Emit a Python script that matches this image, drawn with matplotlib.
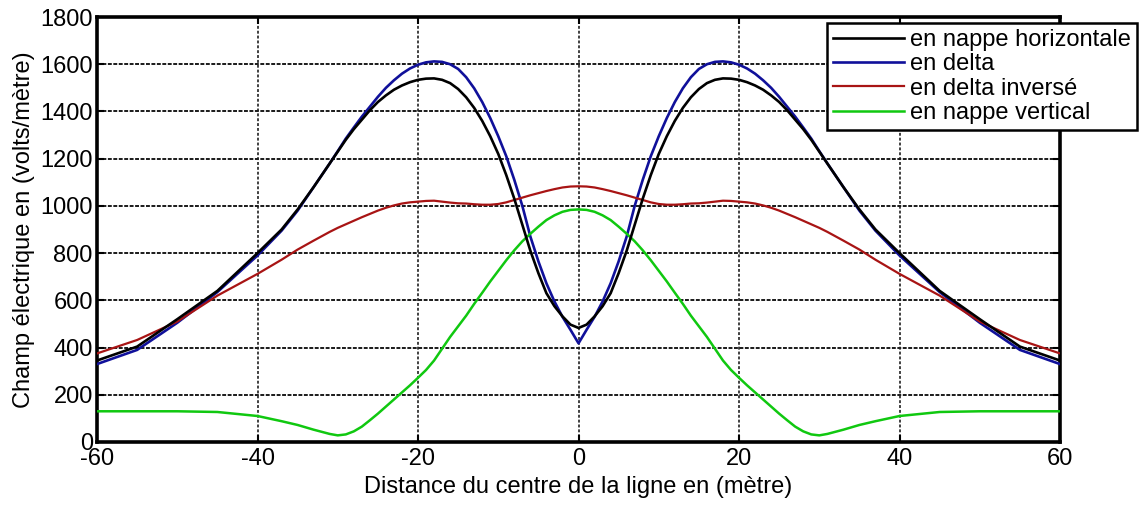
import matplotlib.pyplot as plt

plt.rcParams['font.family'] = ['Liberation Sans', 'DejaVu Sans']
plt.rcParams['axes.unicode_minus'] = False

# distance from the line centre (m)
distance = [-60, -55, -50, -45, -40, -37, -35, -33, -31, -30, -29, -28, -27, -26, -25, -24, -23, -22, -21, -20,
            -19, -18, -17, -16, -15, -14, -13, -12, -11, -10, -9, -8, -7, -6, -5, -4, -3, -2, -1, 0,
            1, 2, 3, 4, 5, 6, 7, 8, 9, 10, 11, 12, 13, 14, 15, 16, 17, 18, 19,
            20, 21, 22, 23, 24, 25, 26, 27, 28, 29, 30, 31, 33, 35, 37, 40, 45, 50, 55, 60]

# electric field (V/m) for each conductor arrangement
nappe_horizontale = [345, 404, 520, 640, 800, 900, 985, 1080, 1180, 1230, 1280, 1325, 1365, 1405, 1440, 1468, 1492, 1510, 1524, 1534,
                     1539, 1540, 1534, 1520, 1495, 1460, 1415, 1360, 1295, 1220, 1130, 1030, 920, 810, 715, 630, 575, 532, 497, 483,
                     497, 532, 575, 630, 715, 810, 920, 1030, 1130, 1220, 1295, 1360, 1415, 1460, 1495, 1520, 1534, 1540, 1539,
                     1534, 1524, 1510, 1492, 1468, 1440, 1405, 1365, 1325, 1280, 1230, 1180, 1080, 985, 900, 800, 640, 520, 404, 345]
delta = [330, 390, 505, 635, 790, 895, 980, 1080, 1180, 1232, 1285, 1332, 1378, 1420, 1462, 1500, 1532, 1560, 1582, 1598,
         1608, 1612, 1610, 1600, 1580, 1545, 1498, 1440, 1372, 1295, 1210, 1110, 1000, 870, 765, 672, 595, 530, 475, 418,
         475, 530, 595, 672, 765, 870, 1000, 1110, 1210, 1295, 1372, 1440, 1498, 1545, 1580, 1600, 1610, 1612, 1608,
         1598, 1582, 1560, 1532, 1500, 1462, 1420, 1378, 1332, 1285, 1232, 1180, 1080, 980, 895, 790, 635, 505, 390, 330]
delta_inverse = [375, 432, 510, 620, 712, 772, 815, 853, 890, 907, 922, 937, 952, 966, 980, 992, 1002, 1010, 1015, 1018,
                 1021, 1022, 1018, 1014, 1011, 1010, 1007, 1005, 1005, 1008, 1015, 1025, 1035, 1045, 1054, 1063, 1071, 1078, 1082, 1083,
                 1082, 1078, 1071, 1063, 1054, 1045, 1035, 1025, 1015, 1008, 1005, 1005, 1007, 1010, 1011, 1014, 1018, 1022, 1021,
                 1018, 1015, 1010, 1002, 992, 980, 966, 952, 937, 922, 907, 890, 853, 815, 772, 712, 620, 510, 432, 375]
nappe_vertical = [130, 130, 130, 127, 110, 88, 72, 52, 34, 28, 32, 45, 65, 92, 120, 150, 180, 210, 240, 272,
                  305, 345, 395, 445, 490, 535, 585, 632, 680, 725, 770, 812, 850, 882, 912, 940, 960, 975, 983, 985,
                  983, 975, 960, 940, 912, 882, 850, 812, 770, 725, 680, 632, 585, 535, 490, 445, 395, 345, 305,
                  272, 240, 210, 180, 150, 120, 92, 65, 45, 32, 28, 34, 52, 72, 88, 110, 127, 130, 130, 130]

x_ticks = [-60, -40, -20, 0, 20, 40, 60]
y_ticks = [0, 200, 400, 600, 800, 1000, 1200, 1400, 1600, 1800]

fig = plt.figure(figsize=(11.44, 5.05), dpi=100)
ax = fig.add_axes([0.0848, 0.1248, 0.8418, 0.8415])

ax.plot(distance, nappe_horizontale, color='#000000', lw=1.9, label='en nappe horizontale', zorder=4)
ax.plot(distance, delta, color='#10109a', lw=1.9, label='en delta', zorder=3)
ax.plot(distance, delta_inverse, color='#a81414', lw=1.6, label='en delta inversé', zorder=3)
ax.plot(distance, nappe_vertical, color='#10c810', lw=1.8, label='en nappe vertical', zorder=3)

ax.set_xlim(-60, 60)
ax.set_ylim(0, 1800)
ax.set_xticks(x_ticks)
ax.set_yticks(y_ticks)
ax.tick_params(direction='in', length=5, width=1.5, top=True, right=True, labelsize=17, pad=3)
ax.tick_params(axis='x', pad=4)
ax.yaxis.grid(True, color='#1a1a1a', linestyle=(0, (2, 0.8)), linewidth=1.4)
ax.xaxis.grid(True, color='#404040', linestyle=(0, (1.5, 1)), linewidth=1.4)
ax.set_axisbelow(True)
for s in ax.spines.values():
    s.set_linewidth(2.6)

ax.set_xlabel('Distance du centre de la ligne en (mètre)', fontsize=17, labelpad=5)
ax.set_ylabel('Champ électrique en (volts/mètre)', fontsize=17, labelpad=4)

leg = ax.legend(loc='upper left', bbox_to_anchor=(0.7229, 0.9545), bbox_transform=fig.transFigure,
                fontsize=17, handlelength=3.0, handletextpad=0.28, labelspacing=0.1,
                borderpad=0.25, borderaxespad=0, fancybox=False, framealpha=1)
leg.get_frame().set_edgecolor('black')
leg.get_frame().set_linewidth(1.8)

fig.savefig('out.png', dpi=100)
